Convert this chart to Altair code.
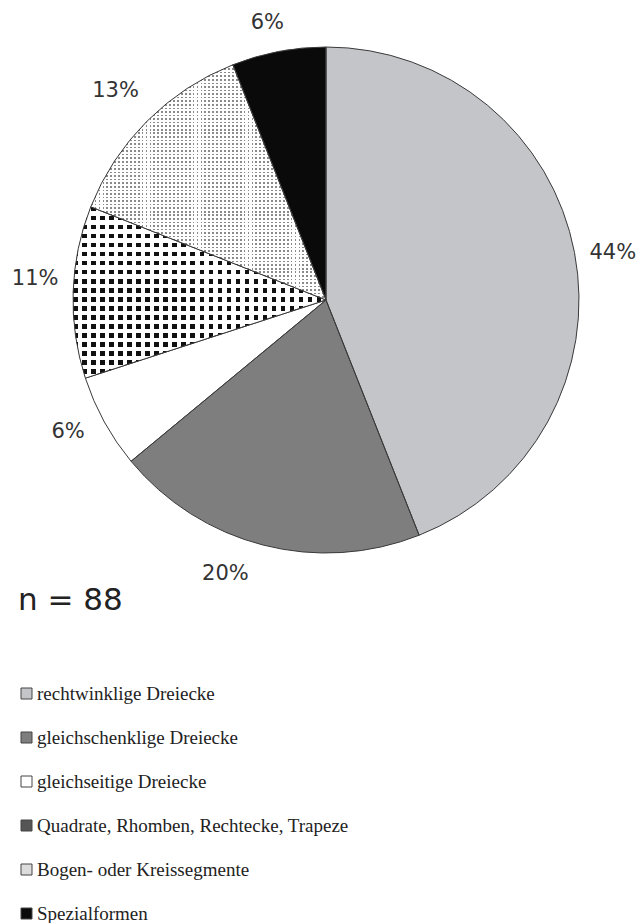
import altair as alt
import pandas as pd

categories = [
    "rechtwinklige Dreiecke",
    "gleichschenklige Dreiecke",
    "gleichseitige Dreiecke",
    "Quadrate, Rhomben, Rechtecke, Trapeze",
    "Bogen- oder Kreissegmente",
    "Spezialformen",
]
percent = [44, 20, 6, 11, 13, 6]
labels = ["44%", "20%", "6%", "11%", "13%", "6%"]
n_total = 88

colors = ["#c3c5c9", "#7e7e7e", "#ffffff", "#555555", "#dcdcdc", "#0a0a0a"]

# per-label nudges (style only): (dx, dy)
label_nudge = [(0, 8), (-28, -9), (-2, -9), (1, -12), (-4, -3), (-4, 10)]

df = pd.DataFrame({
    "cat": categories,
    "value": percent,
    "label": labels,
    "order": list(range(len(categories))),
})
ndf = pd.DataFrame({"t": [f"n = {n_total}"]})

CX, CY, R = 318, 292, 253


def stripes(n, c1, c2, duty, vertical):
    stops = []
    for i in range(n):
        a = i / n
        b = (i + duty) / n
        c = (i + 1) / n
        stops += [
            {"offset": a, "color": c1},
            {"offset": b, "color": c1},
            {"offset": b, "color": c2},
            {"offset": c, "color": c2},
        ]
    g = {"gradient": "linear", "x1": 0, "y1": 0,
         "x2": 1 if vertical else 0, "y2": 0 if vertical else 1,
         "stops": stops}
    return g


CHK = "Quadrate, Rhomben, Rechtecke, Trapeze"
DOT = "Bogen- oder Kreissegmente"

theta = alt.Theta("value:Q", stack=True)
order = alt.Order("order:Q")

base = alt.Chart(df).mark_arc(outerRadius=R).encode(
    theta=theta,
    order=order,
    x=alt.value(CX),
    y=alt.value(CY),
    fill=alt.Fill(
        "cat:N",
        sort=categories,
        scale=alt.Scale(domain=categories, range=colors),
        legend=alt.Legend(
            title=None,
            orient="none",
            legendX=9,
            legendY=676,
            symbolType="square",
            symbolSize=121,
            symbolStrokeColor="#444444",
            symbolStrokeWidth=1,
            labelFont="Liberation Serif",
            labelFontSize=19,
            labelColor="#222222",
            labelLimit=600,
            rowPadding=24,
            labelOffset=1,
            padding=0,
        ),
    ),
)

over1 = alt.Chart(df).mark_arc(outerRadius=R).encode(
    theta=theta,
    order=order,
    x=alt.value(CX),
    y=alt.value(CY),
    fill=alt.when(alt.datum.cat == CHK)
    .then(alt.value(stripes(28, "#111111", "#ffffff", 0.5, True)))
    .when(alt.datum.cat == DOT)
    .then(alt.value(stripes(60, "#8a8a8a", "#ffffff", 0.45, True)))
    .otherwise(alt.value("transparent")),
)

over2 = alt.Chart(df).mark_arc(outerRadius=R, stroke="#3a3a3a", strokeWidth=1).encode(
    theta=theta,
    order=order,
    x=alt.value(CX),
    y=alt.value(CY),
    fill=alt.when(alt.datum.cat == CHK)
    .then(alt.value(stripes(19, "rgba(255,255,255,0)", "#ffffff", 0.5, False)))
    .when(alt.datum.cat == DOT)
    .then(alt.value(stripes(66, "rgba(255,255,255,0)", "#ffffff", 0.45, False)))
    .otherwise(alt.value("transparent")),
)

label_style = dict(font="DejaVu Sans", fontSize=21, color="#333333",
                   baseline="middle", align="center", radius=292)

text_layers = []
for i, (ddx, ddy) in enumerate(label_nudge):
    text_layers.append(
        alt.Chart(df).transform_calculate(
            t=f"datum.order == {i} ? datum.label : ''"
        ).mark_text(dx=ddx, dy=ddy, **label_style).encode(
            theta=theta,
            order=order,
            x=alt.value(CX),
            y=alt.value(CY),
            text="t:N",
        )
    )

ntext = alt.Chart(ndf).mark_text(
    font="DejaVu Sans", fontSize=31, color="#222222", align="left", baseline="alphabetic"
).encode(
    x=alt.value(10),
    y=alt.value(602),
    text="t:N",
)

chart = alt.layer(base, over1, over2, *text_layers, ntext).properties(
    width=628, height=915, autosize="none", padding=0
).configure_view(stroke=None)

chart.save("out.html", embed_options={"renderer": "svg", "actions": False})
